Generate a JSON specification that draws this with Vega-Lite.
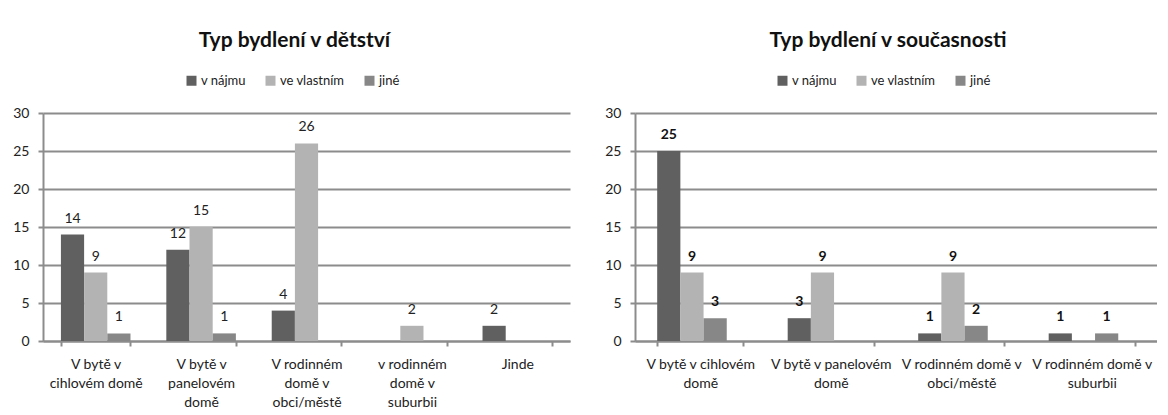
{
  "$schema": "https://vega.github.io/schema/vega-lite/v6.json",
  "background": "white",
  "padding": {"left": 12, "top": 30, "right": 0, "bottom": 0},
  "config": {
    "font": "Lato",
    "view": {"stroke": null},
    "title": {"font": "Lato", "fontSize": 21, "fontWeight": "bold", "color": "#111", "anchor": "middle", "offset": 23},
    "axis": {
      "domainColor": "#8c8c8c", "domainWidth": 2,
      "tickColor": "#8c8c8c", "tickWidth": 2, "tickSize": 5,
      "gridColor": "#8c8c8c", "gridWidth": 2,
      "labelFont": "Lato", "labelFontSize": 14, "labelColor": "#222",
      "title": null
    },
    "axisX": {"grid": false, "tickBand": "extent", "labelPadding": 11, "labelAngle": 0, "labelOverlap": false, "labelLimit": 400, "labelLineHeight": 19},
    "axisY": {"grid": true, "labelPadding": 9},
    "legend": {
      "orient": "none", "direction": "horizontal", "title": null,
      "symbolType": "square", "symbolSize": 100, "symbolStrokeWidth": 0,
      "labelFont": "Lato", "labelFontSize": 13, "labelColor": "#222",
      "labelOffset": 3, "columnPadding": 18, "padding": 0
    }
  },
  "datasets": {
    "detstvi": [
      {"kat": "V bytě v cihlovém domě", "typ": "v nájmu", "pocet": 14},
      {"kat": "V bytě v cihlovém domě", "typ": "ve vlastním", "pocet": 9},
      {"kat": "V bytě v cihlovém domě", "typ": "jiné", "pocet": 1},
      {"kat": "V bytě v panelovém domě", "typ": "v nájmu", "pocet": 12},
      {"kat": "V bytě v panelovém domě", "typ": "ve vlastním", "pocet": 15},
      {"kat": "V bytě v panelovém domě", "typ": "jiné", "pocet": 1},
      {"kat": "V rodinném domě v obci/městě", "typ": "v nájmu", "pocet": 4},
      {"kat": "V rodinném domě v obci/městě", "typ": "ve vlastním", "pocet": 26},
      {"kat": "v rodinném domě v suburbii", "typ": "ve vlastním", "pocet": 2},
      {"kat": "Jinde", "typ": "v nájmu", "pocet": 2}
    ],
    "soucasnost": [
      {"kat": "V bytě v cihlovém domě", "typ": "v nájmu", "pocet": 25},
      {"kat": "V bytě v cihlovém domě", "typ": "ve vlastním", "pocet": 9},
      {"kat": "V bytě v cihlovém domě", "typ": "jiné", "pocet": 3},
      {"kat": "V bytě v panelovém domě", "typ": "v nájmu", "pocet": 3},
      {"kat": "V bytě v panelovém domě", "typ": "ve vlastním", "pocet": 9},
      {"kat": "V rodinném domě v obci/městě", "typ": "v nájmu", "pocet": 1},
      {"kat": "V rodinném domě v obci/městě", "typ": "ve vlastním", "pocet": 9},
      {"kat": "V rodinném domě v obci/městě", "typ": "jiné", "pocet": 2},
      {"kat": "V rodinném domě v suburbii", "typ": "v nájmu", "pocet": 1},
      {"kat": "V rodinném domě v suburbii", "typ": "jiné", "pocet": 1}
    ]
  },
  "spacing": 34,
  "resolve": {"legend": {"color": "independent"}},
  "hconcat": [
    {
      "width": 527, "height": 228,
      "data": {"name": "detstvi"},
      "title": {"text": "Typ bydlení v dětství", "dx": -12},
      "encoding": {
        "x": {
          "field": "kat", "type": "nominal", "sort": null,
          "scale": {"paddingInner": 0.34, "paddingOuter": 0.17},
          "axis": {"labelExpr": "datum.label == 'V bytě v cihlovém domě' ? ['V bytě v', 'cihlovém domě'] : datum.label == 'V bytě v panelovém domě' ? ['V bytě v', 'panelovém', 'domě'] : datum.label == 'V rodinném domě v obci/městě' ? ['V rodinném', 'domě v', 'obci/městě'] : datum.label == 'v rodinném domě v suburbii' ? ['v rodinném', 'domě v', 'suburbii'] : datum.label"}
        },
        "xOffset": {"field": "typ", "type": "nominal", "scale": {"domain": ["v nájmu", "ve vlastním", "jiné"]}},
        "y": {"field": "pocet", "type": "quantitative", "scale": {"domain": [0, 30]}, "axis": {"values": [0, 5, 10, 15, 20, 25, 30]}}
      },
      "layer": [
        {
          "mark": {"type": "bar"},
          "encoding": {
            "color": {
              "field": "typ", "type": "nominal",
              "scale": {"domain": ["v nájmu", "ve vlastním", "jiné"], "range": ["#606060", "#b3b3b3", "#878787"]},
              "legend": {"legendX": 142, "legendY": -39}
            }
          }
        },
        {
          "mark": {"type": "text", "baseline": "bottom", "dy": -9, "fontSize": 14, "color": "#222"},
          "encoding": {"text": {"field": "pocet", "type": "quantitative"}}
        }
      ]
    },
    {
      "width": 522, "height": 228,
      "data": {"name": "soucasnost"},
      "title": {"text": "Typ bydlení v současnosti", "dx": -8},
      "encoding": {
        "x": {
          "field": "kat", "type": "nominal", "sort": null,
          "scale": {"paddingInner": 0.34, "paddingOuter": 0.17},
          "axis": {"labelExpr": "datum.label == 'V bytě v cihlovém domě' ? ['V bytě v cihlovém', 'domě'] : datum.label == 'V bytě v panelovém domě' ? ['V bytě v panelovém', 'domě'] : datum.label == 'V rodinném domě v obci/městě' ? ['V rodinném domě v', 'obci/městě'] : datum.label == 'V rodinném domě v suburbii' ? ['V rodinném domě v', 'suburbii'] : datum.label"}
        },
        "xOffset": {"field": "typ", "type": "nominal", "scale": {"domain": ["v nájmu", "ve vlastním", "jiné"]}},
        "y": {"field": "pocet", "type": "quantitative", "scale": {"domain": [0, 30]}, "axis": {"values": [0, 5, 10, 15, 20, 25, 30]}}
      },
      "layer": [
        {
          "mark": {"type": "bar"},
          "encoding": {
            "color": {
              "field": "typ", "type": "nominal",
              "scale": {"domain": ["v nájmu", "ve vlastním", "jiné"], "range": ["#606060", "#b3b3b3", "#878787"]},
              "legend": {"legendX": 141, "legendY": -39}
            }
          }
        },
        {
          "mark": {"type": "text", "baseline": "bottom", "dy": -9, "fontSize": 14, "fontWeight": "bold", "color": "#111"},
          "encoding": {"text": {"field": "pocet", "type": "quantitative"}}
        }
      ]
    }
  ]
}
